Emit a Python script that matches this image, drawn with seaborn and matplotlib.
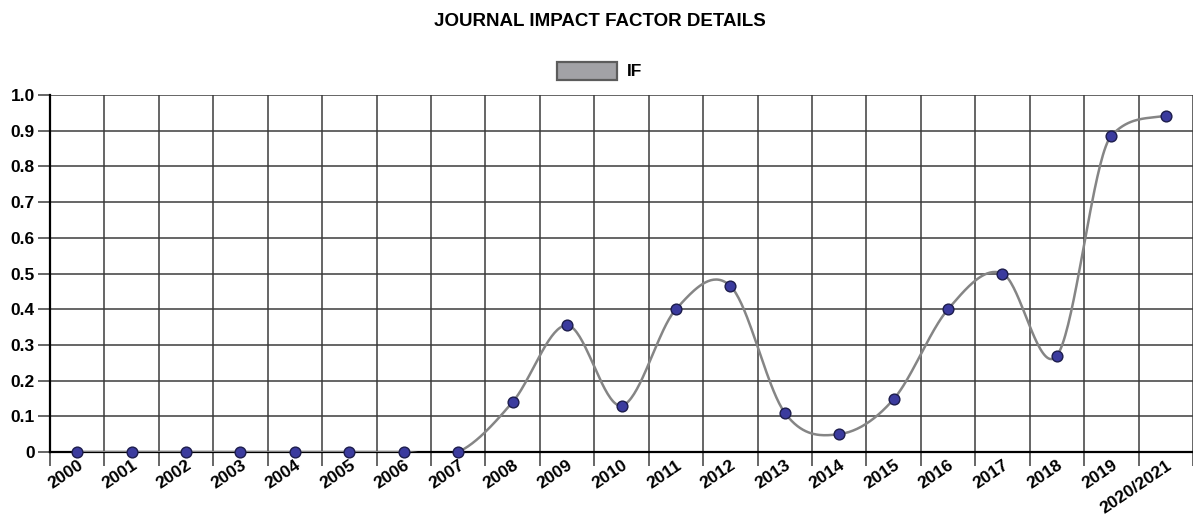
import numpy as np
import pandas as pd
import matplotlib
matplotlib.use("Agg")
import matplotlib.pyplot as plt
import seaborn as sns
from matplotlib.patches import Rectangle

years = ['2000', '2001', '2002', '2003', '2004', '2005', '2006', '2007', '2008', '2009',
         '2010', '2011', '2012', '2013', '2014', '2015', '2016', '2017', '2018', '2019',
         '2020/2021']
impact = [0, 0, 0, 0, 0, 0, 0, 0, 0.14, 0.355, 0.13, 0.40, 0.465, 0.11, 0.05,
          0.148, 0.40, 0.50, 0.27, 0.886, 0.942]
yticks = [0, 0.1, 0.2, 0.3, 0.4, 0.5, 0.6, 0.7, 0.8, 0.9, 1.0]
ytick_labels = ['0', '0.1', '0.2', '0.3', '0.4', '0.5', '0.6', '0.7', '0.8', '0.9', '1.0']

df = pd.DataFrame({'year': years, 'IF': impact})
df['pos'] = np.arange(len(df)) + 0.5

# smooth curve through the points (catmull-rom hermite, clamped against overshoot
# on rising/falling runs)
x = df['pos'].values
y = df['IF'].values
d = np.diff(y)
m = np.zeros_like(y)
m[1:-1] = (y[2:] - y[:-2]) / 2
m[0] = d[0]
m[-1] = d[-1]
for i in range(len(d)):
    if d[i] == 0:
        continue
    a, b = m[i] / d[i], m[i + 1] / d[i]
    if a > 0 and b > 0 and a * a + b * b > 9:
        tau = 3 / np.sqrt(a * a + b * b)
        m[i] = tau * a * d[i]
        m[i + 1] = tau * b * d[i]
xs, ys = [], []
for i in range(len(x) - 1):
    t = np.linspace(0, 1, 40)
    h00 = 2 * t**3 - 3 * t**2 + 1
    h10 = t**3 - 2 * t**2 + t
    h01 = -2 * t**3 + 3 * t**2
    h11 = t**3 - t**2
    xs.extend(x[i] + t)
    ys.extend(h00 * y[i] + h10 * m[i] + h01 * y[i + 1] + h11 * m[i + 1])
curve = pd.DataFrame({'x': xs, 'y': ys})

sns.set_style("white")
plt.rcParams['font.family'] = ['Liberation Sans', 'DejaVu Sans']
plt.rcParams['text.color'] = 'black'
plt.rcParams['xtick.color'] = 'black'
plt.rcParams['ytick.color'] = 'black'

fig = plt.figure(figsize=(11.93, 5.19), dpi=100)
ax = fig.add_axes([50 / 1193, 1 - 452 / 519, 1 - 50 / 1193, (452 - 95) / 519])

grid_color = '#3c3c3c'
for yv in yticks[1:]:
    ax.axhline(yv, color=grid_color, lw=1.1, zorder=1)
for xv in range(1, len(years) + 1):
    ax.axvline(xv, color=grid_color, lw=1.1, zorder=1)

sns.lineplot(data=curve, x='x', y='y', ax=ax, color='#858585', lw=1.8, zorder=3,
             estimator=None, sort=False)
sns.scatterplot(data=df, x='pos', y='IF', ax=ax, s=60, color='#3b3b9e',
                edgecolor='#1c1c4c', linewidth=1.0, zorder=4, clip_on=False)

ax.set_xlim(0, len(years))
ax.set_ylim(0, 1.0)
ax.set_xlabel('')
ax.set_ylabel('')

ax.set_xticks(df['pos'])
ax.set_xticklabels(years, rotation=34, ha='right', va='top', rotation_mode='anchor',
                   fontsize=12.5, fontweight='bold')
ax.set_xticks(np.arange(0, len(years) + 1), minor=True)
ax.tick_params(axis='x', which='major', length=0, pad=4)
ax.tick_params(axis='x', which='minor', length=10, width=1.1, color=grid_color,
               direction='out', bottom=True)

ax.set_yticks(yticks)
ax.set_yticklabels(ytick_labels, fontsize=12.5, fontweight='bold')
ax.tick_params(axis='y', length=9, width=1.1, color=grid_color, pad=2, left=True)

for side in ['top', 'right']:
    ax.spines[side].set_visible(False)
ax.spines['left'].set_color('black')
ax.spines['left'].set_linewidth(1.6)
ax.spines['bottom'].set_color('black')
ax.spines['bottom'].set_linewidth(1.6)

fig.text(0.503, 1 - 21 / 519, 'JOURNAL IMPACT FACTOR DETAILS', ha='center', va='center',
         fontsize=13.5, fontweight='bold')

# legend
fig.patches.append(Rectangle((557 / 1193, 1 - 80 / 519), 60 / 1193, 18 / 519,
                             transform=fig.transFigure, facecolor='#a2a2a6',
                             edgecolor='#5c5c5c', lw=1.6))
fig.text(627 / 1193, 1 - 71 / 519, 'IF', ha='left', va='center', fontsize=12.5,
         fontweight='bold')

fig.savefig('out.png', dpi=100)
